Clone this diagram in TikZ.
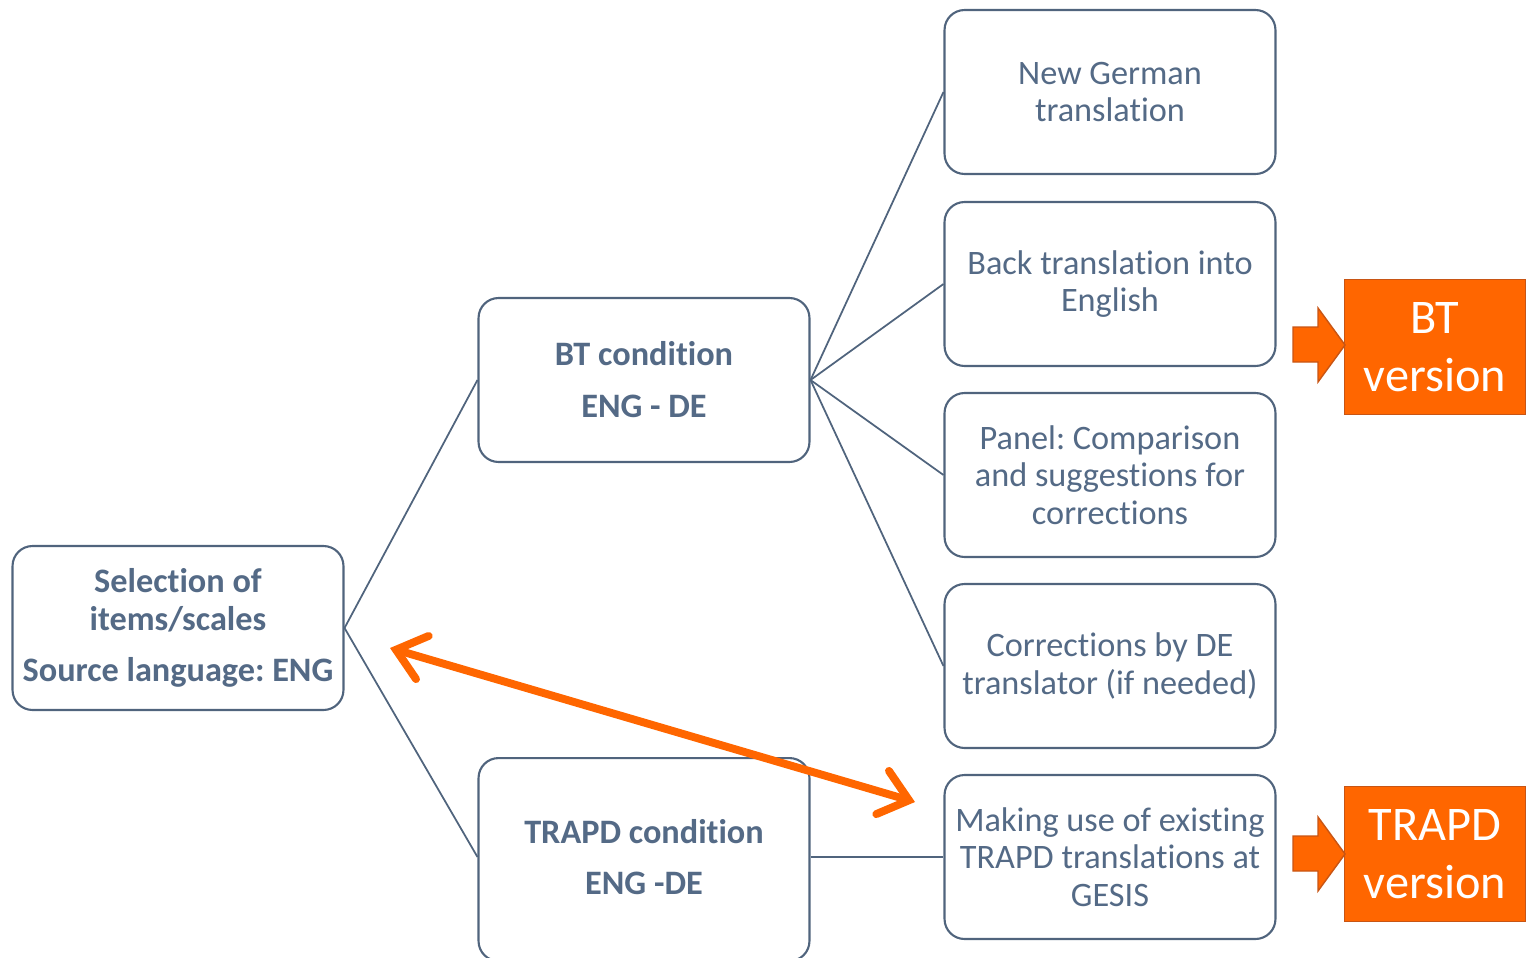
\documentclass[tikz,border=0pt]{standalone}
\usepackage{fontspec}
\setmainfont{Carlito}[RawFeature={-liga;-clig;-calt;-dlig}]
\frenchspacing
\usetikzlibrary{arrows.meta}
\definecolor{ink}{RGB}{84,106,134}
\definecolor{edge}{RGB}{80,100,125}
\definecolor{orng}{RGB}{255,102,0}
\definecolor{orngdark}{RGB}{200,85,20}
\tikzset{
  box/.style={draw=edge, line width=1.2pt, rounded corners=0.4cm, fill=white,
    minimum width=6.62cm, minimum height=3.28cm, align=center, text=ink,
    font=\fontsize{19.5}{21.5}\selectfont, inner sep=2pt},
  bbox/.style={box, font=\fontsize{19.5}{21.5}\selectfont\bfseries},
  obox/.style={draw=orngdark, line width=1pt, fill=orng, text=white, align=center,
    minimum width=3.62cm, minimum height=2.7cm,
    font=\fontsize{27.5}{33}\selectfont, inner sep=0pt},
  link/.style={draw=edge, line width=1pt},
  barrow/.style={fill=orng, draw=orngdark, line width=0.8pt, line join=miter},
  dbl/.style={draw=orng, line width=4.5pt, line cap=round,
    {Straight Barb[length=5.5mm, width=9mm, line cap=round]}-{Straight Barb[length=5.5mm, width=9mm, line cap=round]}}
}
\begin{document}
\begin{tikzpicture}[x=0.02cm, y=-0.02cm]
\useasboundingbox (0,0) rectangle (1531,957);
\begin{scope}
\clip (0,0) rectangle (1531,957);
\node[bbox] (src) at (178,628) {Selection of\\items/scales\\[8pt]Source language: ENG};
\node[bbox] (bt) at (644,380) {BT condition\\[8pt]ENG - DE};
\node[bbox, minimum height=4.06cm, anchor=north] (trapd) at (644,757) {};
\node[ink, font=\fontsize{19.5}{21.5}\selectfont\bfseries, align=center] (trapdtxt) at (644,857) {TRAPD condition\\[8pt]ENG -DE};
\node[box] (n1) at (1110,92) {New German\\translation};
\node[box] (n2) at (1110,284) {Back translation into\\English};
\node[box] (n3) at (1110,475) {Panel: Comparison\\and suggestions for\\corrections};
\node[box] (n4) at (1110,666) {Corrections by DE\\translator (if needed)};
\node[box] (n5) at (1110,857) {Making use of existing\\TRAPD translations at\\GESIS};
\node[obox] (btv) at (1435,347) {BT\\version};
\node[obox] (trv) at (1435,854) {TRAPD\\version};

\draw[link] (src.east) -- (bt.west);
\draw[link] (src.east) -- (trapd.west |- trapdtxt.center);
\draw[link] (bt.east) -- (n1.west);
\draw[link] (bt.east) -- (n2.west);
\draw[link] (bt.east) -- (n3.west);
\draw[link] (bt.east) -- (n4.west);
\draw[link] (trapd.east |- trapdtxt.center) -- (n5.west);

\draw[barrow] (1293,327) -- (1318,327) -- (1318,308) -- (1345,345) -- (1318,382) -- (1318,362) -- (1293,362) -- cycle;
\draw[barrow] (1293,836) -- (1318,836) -- (1318,817) -- (1345,854) -- (1318,891) -- (1318,871) -- (1293,871) -- cycle;

\coordinate (da) at (390,648);
\coordinate (db) at (915,802);
\draw[dbl] (da) -- (db);
\end{scope}
\end{tikzpicture}
\end{document}
